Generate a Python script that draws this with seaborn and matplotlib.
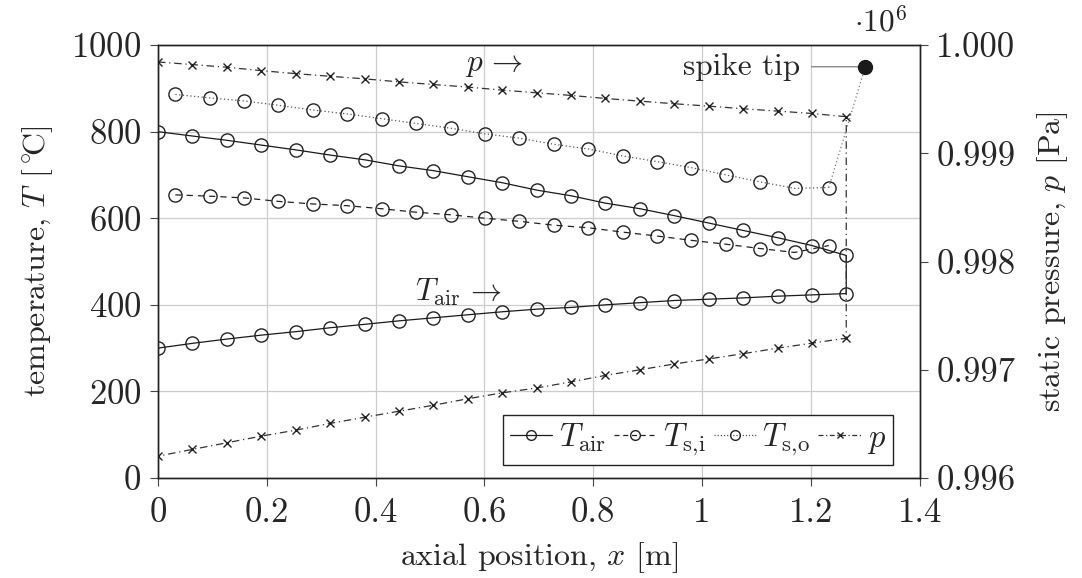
import matplotlib
matplotlib.use("Agg")
import matplotlib.pyplot as plt
from matplotlib.lines import Line2D
import seaborn as sns

# ---------------- data ----------------
x_nodes = [0.000, 0.063, 0.127, 0.190, 0.253, 0.316, 0.380, 0.443, 0.506, 0.569,
           0.633, 0.696, 0.759, 0.822, 0.886, 0.949, 1.012, 1.075, 1.139, 1.202, 1.265]
x_mid = [0.032, 0.095, 0.158, 0.221, 0.285, 0.348, 0.411, 0.474, 0.538, 0.601,
         0.664, 0.727, 0.791, 0.854, 0.917, 0.980, 1.044, 1.107, 1.170, 1.233]

# air temperature: outbound (x = 0 -> 1.265) and return (listed from x = 0)
T_air_out = [300, 311, 321, 330, 338, 347, 355, 363, 370, 377,
             384, 390, 394, 400, 405, 410, 413, 416, 420, 423, 426]
T_air_ret = [800, 790, 780, 769, 758, 746, 735, 721, 710, 696,
             682, 665, 652, 635, 622, 606, 589, 572, 555, 537, 514]

T_si = [654, 651, 647, 639, 633, 629, 622, 614, 608, 600,
        593, 584, 578, 568, 559, 549, 540, 530, 521, 537]
T_so = [886, 878, 871, 861, 850, 841, 830, 819, 808, 795,
        785, 771, 760, 744, 731, 717, 700, 684, 669, 671]

spike_x = 1.30
spike_T = 950

# static pressure [Pa]: upper branch (listed from x = 0) and lower branch (listed from x = 0)
p_upper = [999844, 999820, 999795, 999764, 999736, 999712, 999688, 999660, 999636, 999612,
           999584, 999559, 999535, 999507, 999482, 999458, 999436, 999412, 999390, 999368, 999338]
p_lower = [996202, 996264, 996326, 996387, 996442, 996504, 996562, 996617, 996672, 996732,
           996787, 996832, 996888, 996948, 997000, 997054, 997100, 997148, 997200, 997246, 997292]

T_ticks = [0, 200, 400, 600, 800, 1000]
x_ticks = [0, 0.2, 0.4, 0.6, 0.8, 1.0, 1.2, 1.4]
x_tick_labels = ["0", "0.2", "0.4", "0.6", "0.8", "1", "1.2", "1.4"]
p_ticks = [996000, 997000, 998000, 999000, 1000000]
p_tick_labels = ["0.996", "0.997", "0.998", "0.999", "1.000"]

# ---------------- style ----------------
sns.set_theme(style="white")
plt.rcParams["font.family"] = ["cmr10", "DejaVu Serif"]
plt.rcParams["mathtext.fontset"] = "cm"
plt.rcParams["axes.formatter.use_mathtext"] = True
FS = 22.5
TFS = 25

fig = plt.figure(figsize=(10.82, 5.78), dpi=100)
ax = fig.add_axes([0.146, 0.173, 0.704, 0.749])
ax2 = ax.twinx()

lw = 0.9
ms = 9.5
# T_air loop
air_x = x_nodes + x_nodes[::-1]
air_T = T_air_out + T_air_ret[::-1]
sns.lineplot(x=air_x, y=air_T, sort=False, estimator=None, ax=ax, color="k",
             linewidth=lw, linestyle="-", marker="o", markersize=ms,
             markerfacecolor="none", markeredgecolor="#222222", markeredgewidth=1.0)
# T_s,i
sns.lineplot(x=x_mid, y=T_si, sort=False, estimator=None, ax=ax, color="#222222",
             linewidth=lw, linestyle=(0, (5, 4)), marker="o", markersize=ms,
             markerfacecolor="none", markeredgecolor="#222222", markeredgewidth=1.0)
# T_s,o
sns.lineplot(x=x_mid, y=T_so, sort=False, estimator=None, ax=ax, color="#555555",
             linewidth=lw, linestyle=(0, (1, 2)), marker="o", markersize=ms,
             markerfacecolor="none", markeredgecolor="#222222", markeredgewidth=1.0)
sns.lineplot(x=[x_mid[-1], spike_x], y=[T_so[-1], spike_T], sort=False, estimator=None,
             ax=ax, color="#777777", linewidth=lw, linestyle=(0, (1, 2)))
ax.plot([spike_x], [spike_T], marker="o", markersize=10, color="k", zorder=5)
ax.annotate("spike tip", xy=(spike_x, spike_T), xytext=(1.18, spike_T),
            ha="right", va="center", fontsize=FS,
            arrowprops=dict(arrowstyle="-", color="#888888", lw=1.0,
                            shrinkA=6, shrinkB=0))

# pressure loop
p_x = x_nodes + x_nodes[::-1]
p_y = p_upper + p_lower[::-1]
sns.lineplot(x=p_x, y=p_y, sort=False, estimator=None, ax=ax2, color="#333333",
             linewidth=lw, linestyle=(0, (6, 3, 1, 3)), marker="x", markersize=6,
             markeredgecolor="#222222", markeredgewidth=1.0)

ax.text(0.565, 955, r"$p\,\rightarrow$", fontsize=FS, ha="left", va="center")
ax.text(0.472, 430, r"$T_{\rm air}\,\rightarrow$", fontsize=FS, ha="left", va="center")

# axes
ax.set_xlim(0, 1.4)
ax.set_ylim(0, 1000)
ax2.set_ylim(996000, 1000000)
ax.set_xticks(x_ticks)
ax.set_xticklabels(x_tick_labels)
ax.set_yticks(T_ticks)
ax2.set_yticks(p_ticks)
ax2.set_yticklabels(p_tick_labels)
ax.grid(True, color="#cccccc", linewidth=0.9)
ax2.grid(False)
for a in (ax, ax2):
    for s in a.spines.values():
        s.set_color("#222222")
        s.set_linewidth(1.0)
ax.tick_params(axis="both", labelsize=TFS, direction="out", length=6, width=0.8,
               color="#444444", left=True, bottom=True, right=False, top=False)
ax.tick_params(axis="x", pad=8)
ax.tick_params(axis="y", pad=6)
ax2.tick_params(axis="y", labelsize=TFS, direction="out", length=6, width=0.8,
                color="#444444", right=True, left=False, pad=6)
ax.set_xlabel(r"axial position, $x$ [m]", fontsize=FS + 0.5, labelpad=8)
ax.set_ylabel(r"temperature, $T$ $[^\circ\!\!\mathrm{C}]$", fontsize=FS + 0.5, labelpad=12)
ax2.set_ylabel(r"static pressure, $p$ [Pa]", fontsize=FS + 0.5, labelpad=14)
ax2.text(0.948, 1.015, r"$\cdot 10^6$", transform=ax.transAxes, fontsize=FS,
         ha="center", va="bottom")

handles = [
    Line2D([], [], color="k", lw=lw, ls="-", marker="o", ms=7, mfc="none", mec="#222222"),
    Line2D([], [], color="#222222", lw=lw, ls=(0, (4, 3)), marker="o", ms=7, mfc="none", mec="#222222"),
    Line2D([], [], color="#555555", lw=lw, ls=(0, (1, 1.5)), marker="o", ms=7, mfc="none", mec="#222222"),
    Line2D([], [], color="#333333", lw=lw, ls=(0, (4, 2, 1, 2)), marker="x", ms=5, mec="#222222"),
]
labels = [r"$T_{\rm air}$", r"$T_{\rm s,\!i}$", r"$T_{\rm s,\!o}$", r"$p$"]
leg = ax2.legend(handles, labels, loc="lower right", bbox_to_anchor=(0.965, 0.03),
                 ncol=4, fontsize=FS + 1, frameon=True, fancybox=False, framealpha=1,
                 edgecolor="#222222", handlelength=1.3, handletextpad=0.2,
                 columnspacing=0.25, borderpad=0.2, borderaxespad=0)
leg.get_frame().set_linewidth(1.0)

fig.savefig("out.png", dpi=100)
